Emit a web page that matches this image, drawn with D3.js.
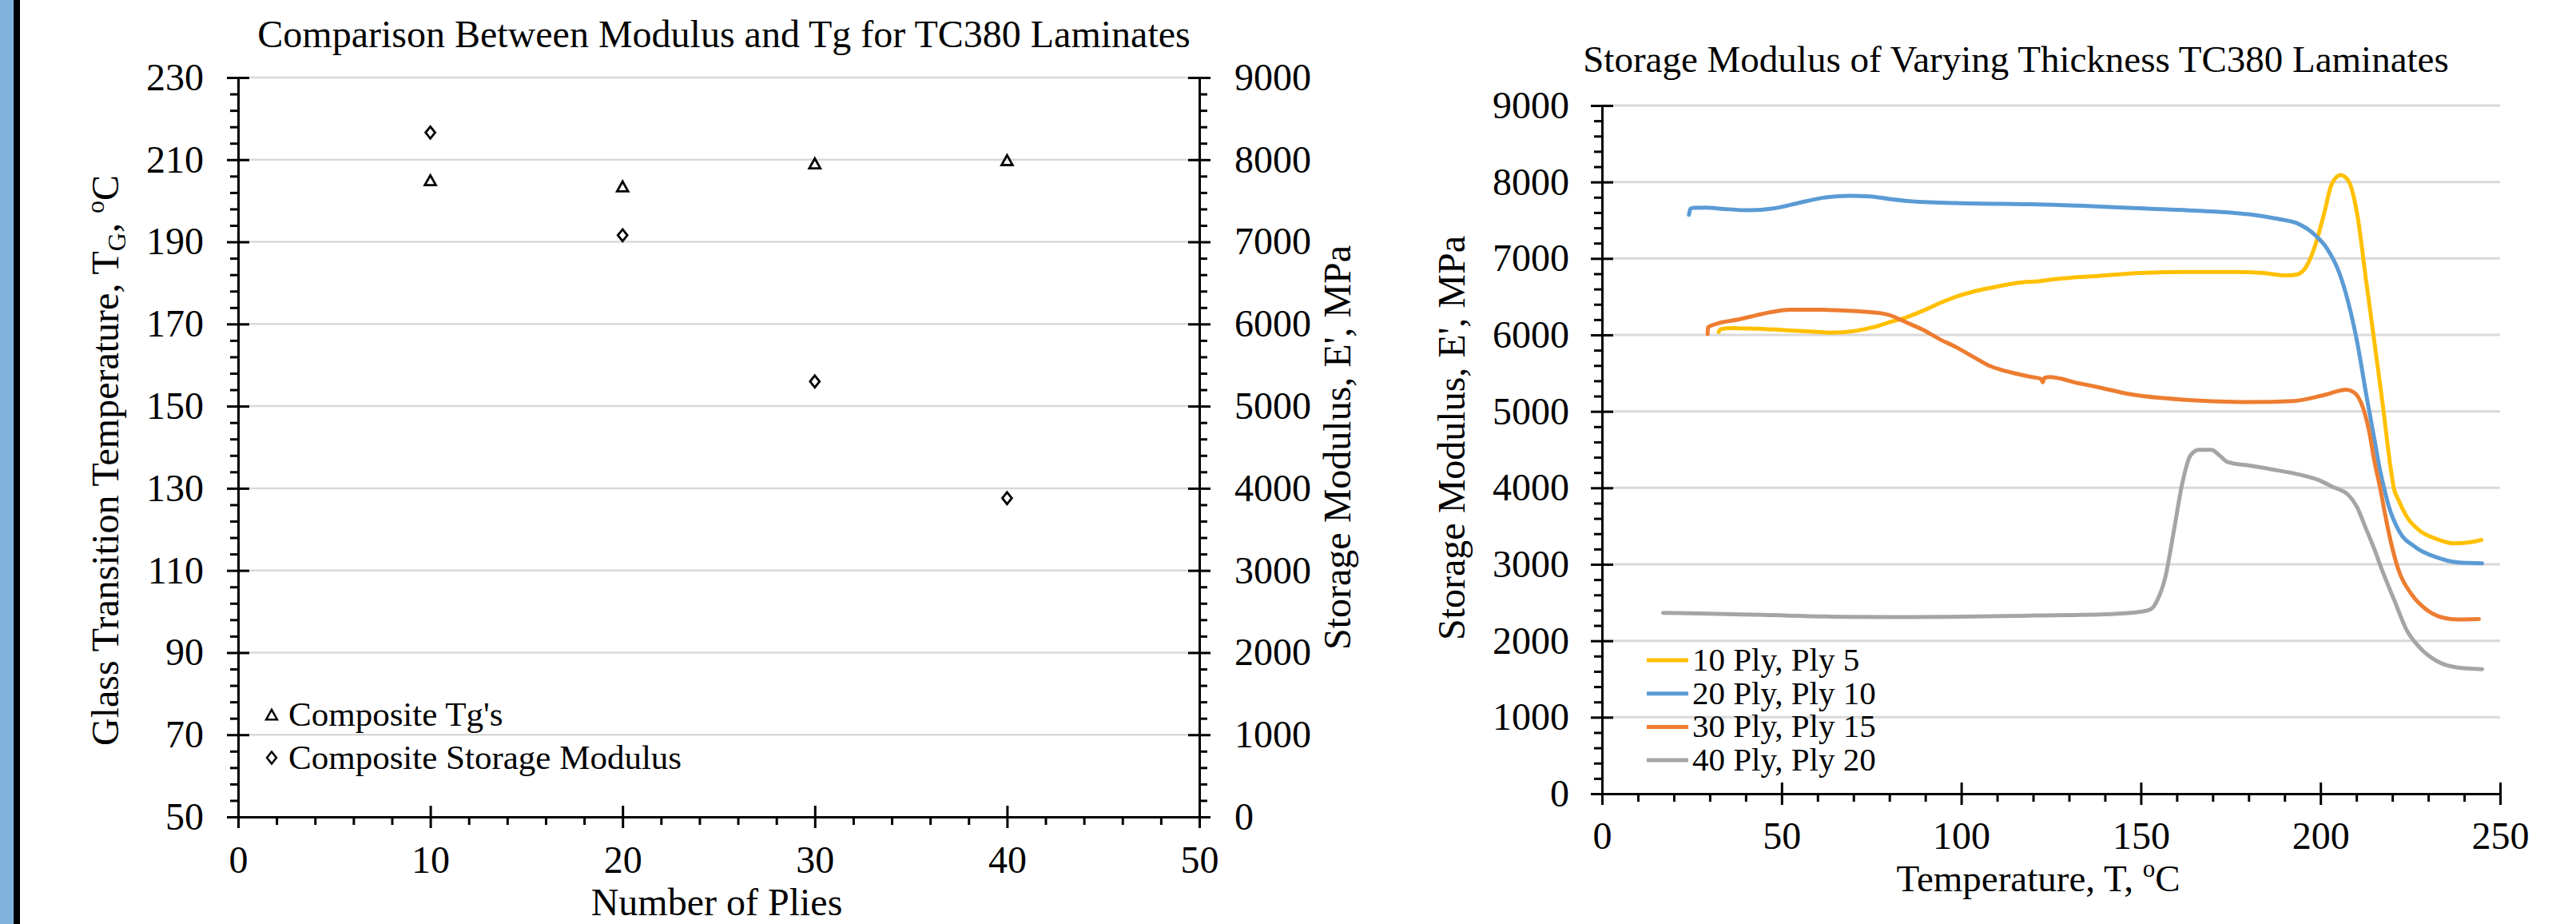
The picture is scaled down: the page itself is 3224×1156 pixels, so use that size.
<!DOCTYPE html>
<html>
<head>
<meta charset="utf-8">
<script src="https://cdn.jsdelivr.net/npm/d3@7"></script>
<style>
  body { margin: 0; background: #fff; }
  svg text { font-family: "Liberation Serif", "Times New Roman", serif; fill: #000; }
</style>
</head>
<body>
<div id="chart"></div>
<script>
const W = 3224, H = 1156;

// left chart: properties vs number of plies
const plies = [10, 20, 30, 40];
const tgValues = [205.0, 203.5, 209.1, 209.9];
const modulusValues = [8330, 7080, 5300, 3880];
const leftLegend = ["Composite Tg's", "Composite Storage Modulus"];

// right chart: storage modulus curves, [temperature, modulus]
const seriesNames = ["10 Ply, Ply 5", "20 Ply, Ply 10", "30 Ply, Ply 15", "40 Ply, Ply 20"];
const seriesColors = ["#FFC000", "#5B9BD5", "#ED7D31", "#A5A5A5"];

const ply10 = [[32.5,6040],[33,6075],[36,6090],[43,6080],[52,6060],[58,6045],[63,6030],[67,6035],[71,6056],[75.5,6100],[80,6165],[85,6235],[89.5,6320],[94,6415],[98.6,6500],[103,6562],[108,6614],[117,6688],[121.4,6700],[126,6730],[130,6746],[138,6771],[150,6810],[163,6824],[176,6824],[184,6810],[190.5,6778],[193.4,6790],[196,6890],[198.5,7166],[201,7585],[203.1,7969],[205.6,8091],[207.7,8021],[210.2,7585],[212.7,6712],[215.2,5839],[217.3,5100],[219.5,4271],[220.4,4000],[221.8,3834],[224.1,3616],[227.6,3441],[232.3,3332],[236.9,3275],[241.5,3288],[244.8,3319]];

const ply20 = [[24.2,7570],[24.6,7650],[25.5,7662],[29,7665],[34,7647],[41,7630],[47.7,7654],[54,7717],[61.6,7794],[69,7818],[74.5,7812],[80,7777],[85,7752],[98.6,7724],[117,7710],[121.4,7707],[132.7,7690],[146.5,7661],[167.5,7620],[180,7578],[188.4,7515],[193.4,7462],[198.5,7305],[201.8,7131],[205.2,6816],[207.7,6432],[210.2,5909],[213,5150],[215,4640],[216.5,4250],[217.7,4000],[219,3760],[221.8,3441],[226.5,3223],[232.3,3092],[238,3026],[245,3013]];

const ply30 = [[29.4,6010],[29.5,6100],[32,6147],[38.4,6206],[43,6258],[47.7,6304],[52.3,6328],[61.6,6328],[70.8,6311],[77.3,6286],[80.1,6258],[84.7,6164],[89.4,6066],[94,5944],[98.6,5839],[103.2,5717],[107.9,5595],[112.5,5525],[119,5455],[122.2,5425],[122.7,5380],[123.2,5440],[124.6,5448],[132.7,5368],[138.2,5316],[146.5,5229],[163.3,5149],[180,5122],[192.6,5136],[201,5213],[207.2,5283],[209.3,5250],[211.9,5038],[213.5,4750],[215,4350],[216.6,4000],[218,3650],[219.5,3310],[221.8,2917],[225.3,2611],[229.9,2393],[234.6,2297],[238,2279],[244.1,2284]];

const ply40 = [[17,2366],[30,2355],[45,2338],[68,2314],[87,2310],[96,2314],[120,2330],[141.8,2350],[150,2380],[152.8,2415],[154.5,2524],[156.8,2830],[159.2,3441],[161.5,4052],[163.8,4424],[166.1,4498],[169.6,4498],[171.9,4424],[174.2,4336],[180,4293],[188.2,4227],[194,4175],[199.8,4096],[203.2,4017],[207.9,3900],[210.2,3747],[212.5,3485],[214.8,3223],[217.2,2917],[220.6,2524],[224.1,2131],[227.6,1913],[232.3,1738],[238,1651],[245,1629]];

const allSeries = [ply10, ply20, ply30, ply40];

const svg = d3.select("#chart").append("svg")
    .attr("width", W).attr("height", H);

svg.append("rect").attr("width", W).attr("height", H).attr("fill", "#fff");
// blue strip + black rule at the left edge
svg.append("rect").attr("x", 0).attr("y", 0).attr("width", 17).attr("height", H).attr("fill", "#7FB3DD");
svg.append("rect").attr("x", 17).attr("y", 0).attr("width", 8).attr("height", H).attr("fill", "#000");

// axis with ticks crossing the line for majors, short outer ticks for minors
function drawAxis(maker, scale, majors, minors, transform, padding, fmt) {
    let g = svg.append("g").attr("transform", transform);
    g.call(maker(scale).tickValues(majors).tickSize(14).tickSizeOuter(0)
        .tickPadding(padding).tickFormat(fmt || d3.format("d")));
    g.select(".domain").attr("stroke-width", 3);
    g.selectAll(".tick line").attr("stroke-width", 3);
    if (maker === d3.axisLeft) g.selectAll(".tick line").attr("x1", 14);
    if (maker === d3.axisRight) g.selectAll(".tick line").attr("x1", -14);
    if (maker === d3.axisBottom) g.selectAll(".tick line").attr("y1", -14);
    g.selectAll(".tick text").attr("font-size", 48)
        .attr("font-family", "Liberation Serif, Times New Roman, serif");

    let m = svg.append("g").attr("transform", transform);
    m.call(maker(scale).tickValues(minors).tickSize(10).tickFormat(""));
    m.select(".domain").remove();
    m.selectAll(".tick line").attr("stroke-width", 3);
}

function grid(yScale, values, x0, x1, width) {
    svg.append("g").selectAll("line").data(values).enter().append("line")
        .attr("x1", x0).attr("x2", x1)
        .attr("y1", d => yScale(d)).attr("y2", d => yScale(d))
        .attr("stroke", "#d9d9d9").attr("stroke-width", width);
}

// ---------- left chart ----------
const lx = d3.scaleLinear().domain([0, 50]).range([298, 1501]);
const lyT = d3.scaleLinear().domain([50, 230]).range([1022, 97]);
const lyE = d3.scaleLinear().domain([0, 9000]).range([1022, 97]);

grid(lyT, d3.range(70, 231, 20), 298, 1501, 2.5);

drawAxis(d3.axisLeft, lyT, d3.range(50, 231, 20), d3.range(50, 231, 4).filter(v => (v - 50) % 20),
    "translate(298,0)", 29);
drawAxis(d3.axisRight, lyE, d3.range(0, 9001, 1000), d3.range(0, 9001, 200).filter(v => v % 1000),
    "translate(1501,0)", 30);
drawAxis(d3.axisBottom, lx, d3.range(0, 51, 10), d3.range(0, 51, 2).filter(v => v % 10),
    "translate(0,1022)", 22);

const triangleType = {
    draw(ctx, size) {
        const w = Math.sqrt(size), h = w * 0.9;
        ctx.moveTo(0, -h / 2);
        ctx.lineTo(w / 2, h / 2);
        ctx.lineTo(-w / 2, h / 2);
        ctx.closePath();
    }
};
const diamondType = {
    draw(ctx, size) {
        const r = Math.sqrt(size) / 2;
        ctx.moveTo(0, -r);
        ctx.lineTo(r * 0.8, 0);
        ctx.lineTo(0, r);
        ctx.lineTo(-r * 0.8, 0);
        ctx.closePath();
    }
};
const triSym = d3.symbol().type(triangleType).size(190);
const diaSym = d3.symbol().type(diamondType).size(220);

svg.append("g").selectAll("path").data(plies).enter().append("path")
    .attr("d", triSym)
    .attr("transform", (d, i) => `translate(${lx(d)},${lyT(tgValues[i])})`)
    .attr("fill", "none").attr("stroke", "#000").attr("stroke-width", 2.8);

svg.append("g").selectAll("path").data(plies).enter().append("path")
    .attr("d", diaSym)
    .attr("transform", (d, i) => `translate(${lx(d)},${lyE(modulusValues[i])})`)
    .attr("fill", "none").attr("stroke", "#000").attr("stroke-width", 2.8);

// left legend
const lleg = svg.append("g").selectAll("g").data(leftLegend).enter().append("g")
    .attr("transform", (d, i) => `translate(340,${894 + i * 54})`);
lleg.append("path")
    .attr("d", (d, i) => i === 0 ? triSym() : diaSym())
    .attr("fill", "none").attr("stroke", "#000").attr("stroke-width", 2.5);
lleg.append("text").attr("x", 21).attr("y", 14).attr("font-size", 43).text(d => d);

svg.append("text").attr("x", 906).attr("y", 59).attr("text-anchor", "middle")
    .attr("font-size", 48).text("Comparison Between Modulus and Tg for TC380 Laminates");
svg.append("text").attr("x", 897).attr("y", 1145).attr("text-anchor", "middle")
    .attr("font-size", 48).text("Number of Plies");

let ylab = svg.append("text").attr("transform", "translate(148,576) rotate(-90)")
    .attr("text-anchor", "middle").attr("font-size", 48);
ylab.append("tspan").text("Glass Transition Temperature, T");
ylab.append("tspan").attr("font-size", 32).attr("dy", 9).text("G");
ylab.append("tspan").attr("dy", -9).text(", ");
ylab.append("tspan").attr("font-size", 32).attr("dy", -18).text("o");
ylab.append("tspan").attr("dy", 18).text("C");

svg.append("text").attr("transform", "translate(1690,560) rotate(-90)")
    .attr("text-anchor", "middle").attr("font-size", 48).text("Storage Modulus, E', MPa");

// ---------- right chart ----------
const rx = d3.scaleLinear().domain([0, 250]).range([2005, 3129]);
const ry = d3.scaleLinear().domain([0, 9000]).range([993, 132]);

grid(ry, d3.range(1000, 9001, 1000), 2005, 3129, 3);

drawAxis(d3.axisLeft, ry, d3.range(0, 9001, 1000), d3.range(0, 9001, 200).filter(v => v % 1000),
    "translate(2005,0)", 27);
drawAxis(d3.axisBottom, rx, d3.range(0, 251, 50), d3.range(0, 251, 10).filter(v => v % 50),
    "translate(0,993)", 21);

const line = d3.line().x(d => rx(d[0])).y(d => ry(d[1])).curve(d3.curveMonotoneX);

svg.append("g").selectAll("path").data(allSeries).enter().append("path")
    .attr("d", line)
    .attr("fill", "none")
    .attr("stroke", (d, i) => seriesColors[i])
    .attr("stroke-width", 5)
    .attr("stroke-linejoin", "round").attr("stroke-linecap", "round");

const rleg = svg.append("g").selectAll("g").data(seriesNames).enter().append("g")
    .attr("transform", (d, i) => `translate(2061,${826 + i * 41.7})`);
rleg.append("line").attr("x1", 0).attr("x2", 52)
    .attr("stroke", (d, i) => seriesColors[i]).attr("stroke-width", 5);
rleg.append("text").attr("x", 57).attr("y", 13).attr("font-size", 41).text(d => d);

svg.append("text").attr("x", 2523).attr("y", 90).attr("text-anchor", "middle")
    .attr("font-size", 47).text("Storage Modulus of Varying Thickness TC380 Laminates");

let xlab = svg.append("text").attr("x", 2551).attr("y", 1115).attr("text-anchor", "middle")
    .attr("font-size", 47);
xlab.append("tspan").text("Temperature, T, ");
xlab.append("tspan").attr("font-size", 31).attr("dy", -18).text("o");
xlab.append("tspan").attr("dy", 18).text("C");

svg.append("text").attr("transform", "translate(1833,548) rotate(-90)")
    .attr("text-anchor", "middle").attr("font-size", 48).text("Storage Modulus, E', MPa");
</script>
</body>
</html>
